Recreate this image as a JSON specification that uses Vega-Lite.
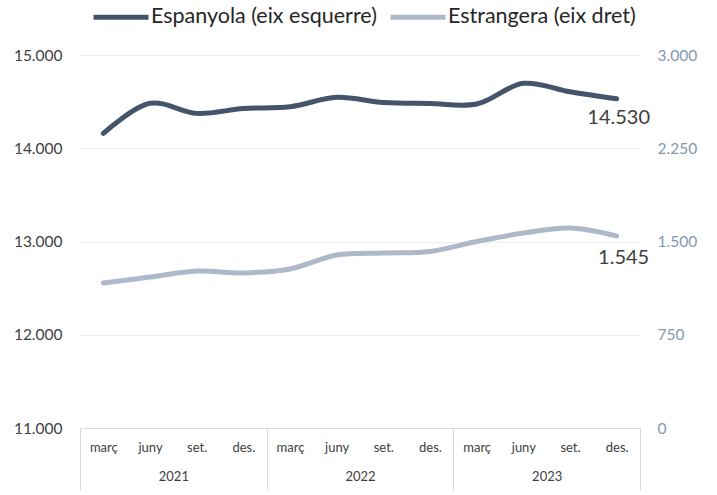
{
  "$schema": "https://vega.github.io/schema/vega-lite/v6.json",
  "width": 560,
  "height": 373,
  "autosize": {"type": "none"},
  "padding": {"left": 80, "top": 55, "right": 77, "bottom": 67},
  "background": "white",
  "config": {
    "locale": {"number": {"decimal": ",", "thousands": ".", "grouping": [3], "currency": ["", " €"]}},
    "font": "Lato",
    "view": {"stroke": null},
    "axis": {"labelFont": "Lato", "title": null}
  },
  "data": {
    "values": [
      {"key": "2021-març", "any": "2021", "esp": 14160, "ext": 1166},
      {"key": "2021-juny", "any": "2021", "esp": 14482, "ext": 1214},
      {"key": "2021-set.", "any": "2021", "esp": 14374, "ext": 1263},
      {"key": "2021-des.", "any": "2021", "esp": 14426, "ext": 1247},
      {"key": "2022-març", "any": "2022", "esp": 14445, "ext": 1279},
      {"key": "2022-juny", "any": "2022", "esp": 14546, "ext": 1391},
      {"key": "2022-set.", "any": "2022", "esp": 14490, "ext": 1407},
      {"key": "2022-des.", "any": "2022", "esp": 14480, "ext": 1420},
      {"key": "2023-març", "any": "2023", "esp": 14474, "ext": 1500},
      {"key": "2023-juny", "any": "2023", "esp": 14696, "ext": 1568},
      {"key": "2023-set.", "any": "2023", "esp": 14606, "ext": 1609},
      {"key": "2023-des.", "any": "2023", "esp": 14530, "ext": 1545}
    ]
  },
  "layer": [
    {
      "encoding": {
        "x": {
          "field": "key", "type": "ordinal", "sort": null,
          "axis": {
            "orient": "bottom", "labelAngle": 0, "ticks": false, "domain": true,
            "domainColor": "#d9d9d9", "labelPadding": 13, "labelFontSize": 13,
            "labelColor": "#404040", "labelExpr": "slice(datum.label, 5)", "grid": false
          }
        },
        "y": {
          "field": "esp", "type": "quantitative",
          "scale": {"domain": [11000, 15000], "zero": false, "nice": false},
          "axis": {
            "orient": "left", "values": [11000, 12000, 13000, 14000, 15000], "format": ",.0f",
            "domain": false, "ticks": false, "labelPadding": 18, "labelFontSize": 15.5,
            "labelColor": "#404040", "grid": true, "gridColor": "#eeeeee", "gridWidth": 1
          }
        }
      },
      "layer": [
        {
          "mark": {"type": "line", "interpolate": "catmull-rom", "strokeWidth": 5, "strokeCap": "round"},
          "encoding": {
            "color": {
              "datum": "Espanyola (eix esquerre)", "type": "nominal",
              "scale": {"domain": ["Espanyola (eix esquerre)", "Estrangera (eix dret)"], "range": ["#44546A", "#ADB9CA"]},
              "legend": {
                "orient": "none", "legendX": 11, "legendY": -68, "direction": "horizontal", "title": null,
                "symbolType": "stroke", "symbolStrokeWidth": 5, "symbolSize": 3025,
                "labelFontSize": 21.5, "labelColor": "#262626", "labelOffset": 0, "columnPadding": 3,
                "labelLimit": 400
              }
            }
          }
        },
        {
          "transform": [{"filter": "datum.key == '2023-des.'"}],
          "mark": {"type": "text", "fontSize": 20, "color": "#404040", "align": "center", "baseline": "middle", "dx": 2, "dy": 19},
          "encoding": {"text": {"field": "esp", "type": "quantitative", "format": ",.0f"}}
        }
      ]
    },
    {
      "encoding": {
        "x": {"field": "key", "type": "ordinal", "sort": null, "axis": null},
        "y": {
          "field": "ext", "type": "quantitative",
          "scale": {"domain": [0, 3000], "nice": false},
          "axis": {
            "orient": "right", "values": [0, 750, 1500, 2250, 3000], "format": ",.0f",
            "domain": false, "ticks": false, "labelPadding": 17, "labelFontSize": 15.5,
            "labelColor": "#8497B0", "grid": false
          }
        }
      },
      "layer": [
        {
          "mark": {"type": "line", "interpolate": "catmull-rom", "strokeWidth": 5, "strokeCap": "round"},
          "encoding": {
            "color": {"datum": "Estrangera (eix dret)", "type": "nominal"}
          }
        },
        {
          "transform": [{"filter": "datum.key == '2023-des.'"}],
          "mark": {"type": "text", "fontSize": 20, "color": "#404040", "align": "center", "baseline": "middle", "dx": 7, "dy": 22},
          "encoding": {"text": {"field": "ext", "type": "quantitative", "format": ",.0f"}}
        }
      ]
    },
    {
      "mark": {"type": "rule", "strokeOpacity": 0},
      "encoding": {
        "x": {
          "field": "any", "type": "ordinal",
          "scale": {"type": "band", "paddingInner": 0, "paddingOuter": 0},
          "axis": {
            "orient": "bottom", "labelAngle": 0, "domain": false, "ticks": true, "tickBand": "extent",
            "tickSize": 62, "tickColor": "#d9d9d9", "labelPadding": -20, "labelFontSize": 13,
            "labelColor": "#404040", "grid": false
          }
        }
      }
    }
  ],
  "resolve": {"scale": {"x": "independent", "y": "independent"}}
}
